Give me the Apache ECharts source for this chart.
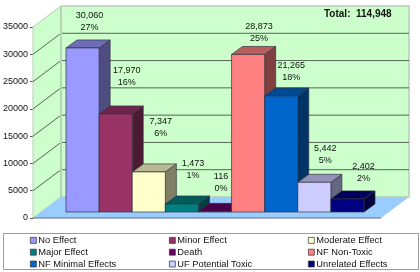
<!DOCTYPE html>
<html><head><meta charset="utf-8">
<style>html,body{margin:0;padding:0;background:#fff}#c{width:420px;height:272px}</style>
<script src="https://cdn.jsdelivr.net/npm/echarts@6/dist/echarts.min.js"></script>
</head><body><div id="c"></div>
<script>
const categories = ['No Effect','Minor Effect','Moderate Effect','Major Effect','Death','NF Non-Toxic','NF Minimal Effects','UF Potential Toxic','Unrelated Effects'];
const counts = [30060,17970,7347,1473,116,28873,21265,5442,2402];
const countLabels = ['30,060','17,970','7,347','1,473','116','28,873','21,265','5,442','2,402'];
const percentLabels = ['27%','16%','6%','1%','0%','25%','18%','5%','2%'];
const barColors = ['#9999FF','#993366','#FFFFCC','#008080','#660066','#FF8080','#0066CC','#CCCCFF','#000080'];
const yTicks = [0,5000,10000,15000,20000,25000,30000,35000];
const labelShiftX = [7,11,12,11,6,11,10,11,16];
const labelShiftY = [-18,-29,-36,-26,-21,-14,-16,-20,-18];
const totalLabel = 'Total:  114,948';

const FONT = '"Liberation Sans", Arial, sans-serif';
const shade = (hex, k) => {
  const n = parseInt(hex.slice(1), 16);
  const c = [n >> 16, (n >> 8) & 255, n & 255].map(v => Math.round(v * k));
  return `rgb(${c.join(',')})`;
};
const poly = (points, fill, stroke, lw) => ({
  type: 'polygon', shape: { points },
  style: { fill, stroke: stroke || null, lineWidth: lw === undefined ? 1 : lw }
});
const line = (x1, y1, x2, y2, stroke, lw) => ({
  type: 'line', shape: { x1, y1, x2, y2 }, style: { stroke, lineWidth: lw || 1 }
});

const DEPTH_X = 28, DEPTH_Y = -21;   // floor depth
const BAR_X = 8, BAR_Y = -6;         // bars stand this far in
const BAR_DX = 11, BAR_DY = -8;      // bar depth
const PAD = 25;                      // axis to first bar

function renderWalls(params, api) {
  const cs = params.coordSys;
  const L = cs.x - PAD, R = cs.x + cs.width + PAD;
  const y0 = api.coord([0, 0])[1], yT = api.coord([0, 35000])[1];
  const children = [
    poly([[L, yT],[L + DEPTH_X, yT + DEPTH_Y],[L + DEPTH_X, y0 + DEPTH_Y],[L, y0]], '#CCFFCC', '#B8CCB8', 1),
    poly([[L + DEPTH_X, yT + DEPTH_Y],[R + DEPTH_X, yT + DEPTH_Y],[R + DEPTH_X, y0 + DEPTH_Y],[L + DEPTH_X, y0 + DEPTH_Y]], '#CCFFCC', '#B8CCB8', 1.5),
    poly([[L, y0],[L + DEPTH_X, y0 + DEPTH_Y],[R + DEPTH_X, y0 + DEPTH_Y],[R, y0]], '#99CCFF', null, 0),
    line(L, y0, R, y0, '#5A6E8C', 1)
  ];
  yTicks.slice(1, -1).forEach(t => {
    const y = api.coord([0, t])[1];
    children.push(line(L, y, L + DEPTH_X, y + DEPTH_Y, '#566456', 1));
    children.push(line(L + DEPTH_X, y + DEPTH_Y, R + DEPTH_X, y + DEPTH_Y, '#566456', 1));
  });
  children.push(line(L + DEPTH_X, yT + DEPTH_Y, L + DEPTH_X, y0 + DEPTH_Y, '#B8D4B8', 2));
  return { type: 'group', children };
}

function renderBar(i) {
  return function (params, api) {
    const c = api.coord([api.value(0), api.value(1)]);
    const base = api.coord([api.value(0), 0]);
    const w = api.size([1, 0])[0];
    const x0 = c[0] - w / 2, x1 = c[0] + w / 2;
    const yTop = c[1] + BAR_Y, yBase = base[1] + BAR_Y;
    const edge = '#333340';
    return { type: 'group', children: [
      poly([[x1 + BAR_X, yTop],[x1 + BAR_X + BAR_DX, yTop + BAR_DY],[x1 + BAR_X + BAR_DX, yBase + BAR_DY],[x1 + BAR_X, yBase]], shade(barColors[i], 0.5), edge, 0.7),
      poly([[x0 + BAR_X, yTop],[x0 + BAR_X + BAR_DX, yTop + BAR_DY],[x1 + BAR_X + BAR_DX, yTop + BAR_DY],[x1 + BAR_X, yTop]], shade(barColors[i], 0.72), edge, 0.7),
      poly([[x0 + BAR_X, yTop],[x1 + BAR_X, yTop],[x1 + BAR_X, yBase],[x0 + BAR_X, yBase]], barColors[i], edge, 0.7)
    ]};
  };
}

function renderLabel(i) {
  return function (params, api) {
    const c = api.coord([api.value(0), api.value(1)]);
    const x = c[0] + BAR_X + labelShiftX[i];
    const y = c[1] + BAR_Y + BAR_DY + labelShiftY[i];
    return { type: 'text', style: {
      x, y, text: countLabels[i] + '\n' + percentLabels[i],
      fill: '#111', font: '9px ' + FONT, align: 'center', verticalAlign: 'middle', lineHeight: 12
    }};
  };
}

const legendCols = [[0,3,6],[1,4,7],[2,5,8]];
const legendLeft = [30, 169, 308];

const option = {
  animation: false,
  backgroundColor: '#fff',
  title: { text: totalLabel, left: 324, top: 9, padding: 0,
    textStyle: { fontFamily: FONT, fontSize: 10, fontWeight: 'bold', color: '#111' } },
  grid: { left: 58, top: 27, width: 298, height: 191, outerBoundsMode: 'none', containLabel: false },
  xAxis: { type: 'category', data: categories, show: false },
  yAxis: { type: 'value', min: 0, max: 35000, interval: 5000, offset: 25,
    axisLine: { show: true, lineStyle: { color: '#555', width: 1 } },
    axisTick: { show: true, length: 3, lineStyle: { color: '#555' } },
    splitLine: { show: false },
    axisLabel: { margin: 5, fontFamily: FONT, fontSize: 9, color: '#111', formatter: v => String(v) } },
  legend: legendCols.map((col, k) => ({
    orient: 'vertical', left: legendLeft[k], top: 234.5,
    data: col.map(i => categories[i]),
    icon: 'rect', itemWidth: 6, itemHeight: 6, itemGap: 0, padding: 0,
    selectedMode: false,
    itemStyle: { borderColor: '#333', borderWidth: 0.7 },
    textStyle: { fontFamily: FONT, fontSize: 9.3, color: '#111', padding: [0,0,0,-3], lineHeight: 11.8, height: 11.8 }
  })),
  graphic: [{ type: 'rect', z: -1, silent: true,
    shape: { x: 3.5, y: 233.5, width: 415, height: 36 },
    style: { fill: '#fff', stroke: '#9a9a9a', lineWidth: 1 } }],
  series: [
    { type: 'custom', name: 'walls', z: 1, silent: true, data: [[0, 0]], renderItem: renderWalls },
    ...categories.map((name, i) => ({
      type: 'custom', name, z: 2, itemStyle: { color: barColors[i] },
      data: [[i, counts[i]]], encode: { x: 0, y: 1 }, renderItem: renderBar(i)
    })),
    ...categories.map((name, i) => ({
      type: 'custom', name: name + ' label', z: 3, silent: true,
      data: [[i, counts[i]]], encode: { x: 0, y: 1 }, renderItem: renderLabel(i)
    }))
  ]
};
echarts.init(document.getElementById('c'), null, { renderer: 'canvas' }).setOption(option);
</script></body></html>
